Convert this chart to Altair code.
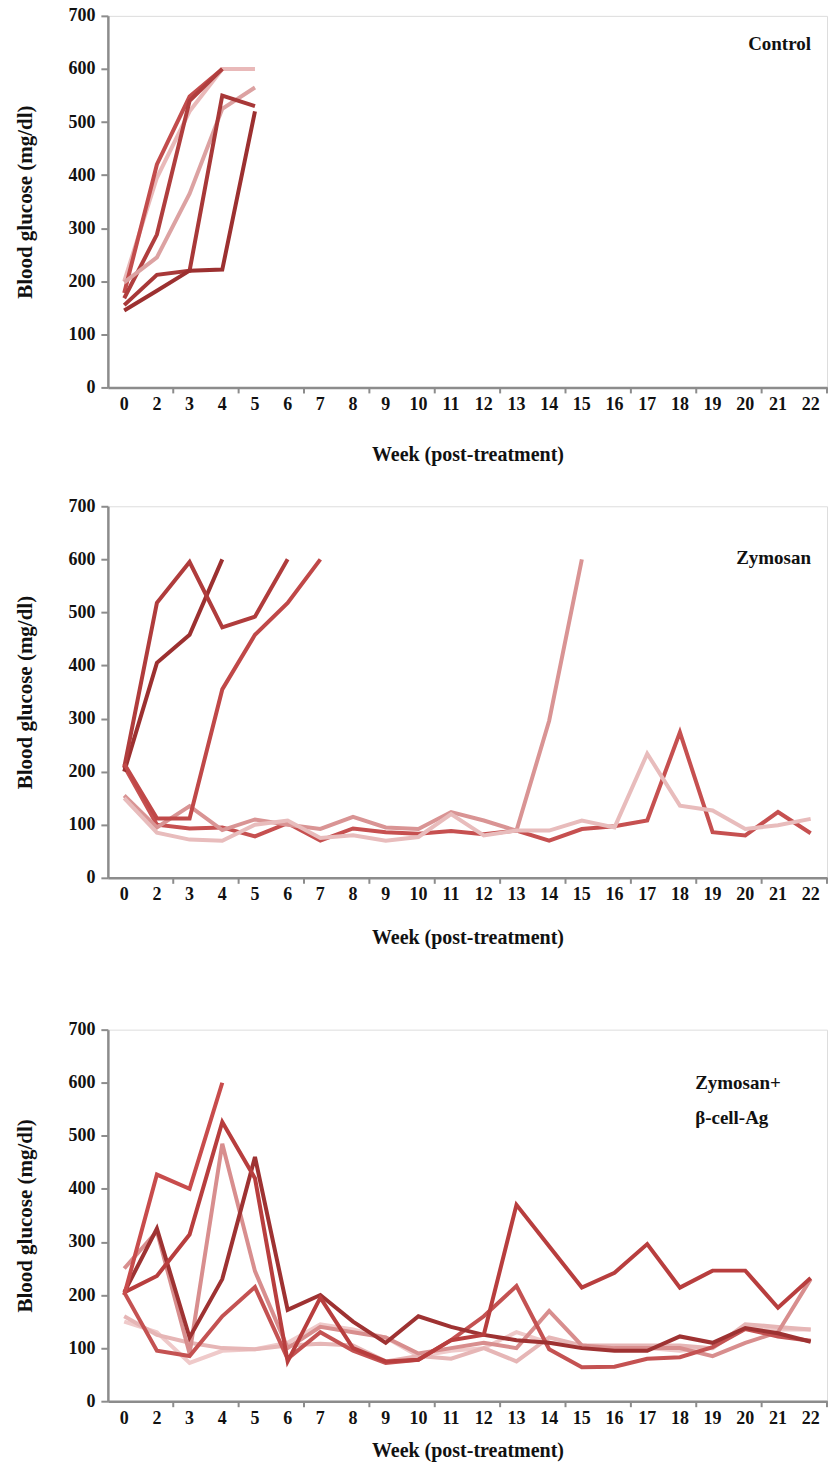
import altair as alt
import pandas as pd

# Week categories on the x axis (no week 1 was sampled)
weeks = ["0", "2", "3", "4", "5", "6", "7", "8", "9", "10", "11", "12",
         "13", "14", "15", "16", "17", "18", "19", "20", "21", "22"]

# ---- Control group: blood glucose per mouse (mg/dl) ----
control_c1 = [200, 395, 520, 600, 600]
control_c2 = [178, 420, 548, 600]
control_c3 = [168, 288, 540, 600]
control_c4 = [198, 245, 365, 525, 565]
control_c5 = [155, 212, 220, 550, 530]
control_c6 = [145, 182, 220, 222, 520]

# ---- Zymosan group ----
zym_z1 = [200, 405, 458, 600]
zym_z2 = [208, 518, 595, 472, 492, 600]
zym_z3 = [215, 112, 112, 355, 458, 518, 600]
zym_z4 = [210, 100, 93, 95, 78, 103, 70, 93, 86, 83, 88, 82, 89, 70, 92, 97,
          108, 274, 86, 80, 124, 84]
zym_z5 = [155, 95, 135, 90, 110, 100, 92, 115, 95, 92, 124, 108, 89, 296, 600]
zym_z6 = [150, 85, 72, 70, 100, 108, 75, 80, 70, 77, 120, 80, 89, 89, 108, 95,
          234, 136, 127, 92, 99, 111]

# ---- Zymosan + beta-cell antigen group ----
zb_b1 = [200, 427, 400, 600]
zb_b2 = [205, 236, 314, 526, 420, 75, 195, 100, 75, 78, 115, 125, 370, 292,
         214, 242, 296, 214, 246, 246, 176, 232]
zb_b3 = [205, 325, 120, 230, 460, 172, 200, 150, 110, 160, 140, 125, 115, 110,
         100, 95, 95, 122, 110, 138, 128, 112]
zb_b4 = [205, 95, 85, 160, 215, 80, 130, 95, 72, 78, 115, 160, 217, 98, 64,
         65, 80, 83, 102, 136, 122, 114]
zb_b5 = [250, 320, 90, 485, 245, 100, 140, 130, 120, 90, 100, 110, 100, 170,
         105, 100, 100, 100, 85, 110, 130, 230]
zb_b6 = [160, 125, 110, 100, 98, 105, 108, 105, 75, 85, 80, 100, 75, 120, 105,
         105, 105, 105, 100, 145, 140, 135]
zb_b7 = [150, 130, 72, 95, 98, 110, 145, 135, 120, 85, 95, 100, 130, 110, 105,
         100, 100, 95, 100, 140, 135, 135]

control_series = [("c1", control_c1, "#e9b9b9"), ("c2", control_c2, "#c24c4c"),
                  ("c3", control_c3, "#b03e3e"), ("c4", control_c4, "#dca2a2"),
                  ("c5", control_c5, "#a83838"), ("c6", control_c6, "#9c3030")]

zym_series = [("z4", zym_z4, "#c65050"), ("z5", zym_z5, "#d99494"),
              ("z6", zym_z6, "#e8bcbc"), ("z1", zym_z1, "#9c3030"),
              ("z2", zym_z2, "#b03c3c"), ("z3", zym_z3, "#c04848")]

zb_series = [("b7", zb_b7, "#efcaca"), ("b6", zb_b6, "#e6b6b6"),
             ("b5", zb_b5, "#d88e8e"), ("b4", zb_b4, "#c45252"),
             ("b3", zb_b3, "#9e3232"), ("b2", zb_b2, "#b83e3e"),
             ("b1", zb_b1, "#c84c4c")]

# tick marks sit on every second category boundary
tick_weeks = weeks[1::2]

FONT = "Liberation Serif"
PANEL_W = 720
PANEL_H = 372
AXIS_GREY = "#8c8c8c"


def frame(series):
    rows = []
    for order, (name, vals, col) in enumerate(series):
        for wk, v in zip(weeks, vals):
            rows.append({"week": wk, "glucose": v, "mouse": name,
                         "colour": col, "order": order})
    return pd.DataFrame(rows)


x_scale = alt.Scale(type="band", domain=weeks, paddingInner=0, paddingOuter=0)


def make_x_axis(title_pad):
    return alt.Axis(
        title="Week (post-treatment)",
        titleFont=FONT, titleFontSize=20, titleFontWeight="bold",
        titleColor="#111111", titlePadding=title_pad,
        labelFont=FONT, labelFontSize=18, labelFontWeight="bold",
        labelColor="#111111", labelAngle=0, labelPadding=8,
        domainColor=AXIS_GREY, domainWidth=2.5,
        ticks=False, grid=False,
    )


y_axis = alt.Axis(
    title="Blood glucose (mg/dl)",
    values=list(range(0, 701, 100)),
    titleFont=FONT, titleFontSize=21, titleFontWeight="bold",
    titleColor="#111111", titlePadding=32,
    labelFont=FONT, labelFontSize=18, labelFontWeight="bold",
    labelColor="#111111", labelPadding=6,
    domainColor=AXIS_GREY, domainWidth=2.5,
    tickColor=AXIS_GREY, tickWidth=2, tickSize=7,
    grid=False,
)


def panel(series, labels, title_pad):
    df = frame(series)
    x_axis = make_x_axis(title_pad)
    lines = alt.Chart(df).mark_line(strokeWidth=4, strokeJoin="miter").encode(
        x=alt.X("week:N", sort=weeks, scale=x_scale, axis=x_axis),
        y=alt.Y("glucose:Q", scale=alt.Scale(domain=[0, 700], nice=False),
                axis=y_axis),
        color=alt.Color("colour:N", scale=None, legend=None),
        detail="mouse:N",
        order="order:Q",
    )
    ticks = alt.Chart(pd.DataFrame({"week": tick_weeks})).mark_rule(
        color=AXIS_GREY, strokeWidth=2
    ).encode(
        x=alt.X("week:N", sort=weeks, scale=x_scale, bandPosition=1, axis=x_axis),
        y=alt.value(PANEL_H),
        y2=alt.value(PANEL_H + 6),
    )
    layers = [lines, ticks]
    for text, px, py, align in labels:
        layers.append(
            alt.Chart(pd.DataFrame({"t": [text]})).mark_text(
                font=FONT, fontSize=19, fontWeight="bold", color="#111111",
                align=align, baseline="middle",
            ).encode(text="t:N", x=alt.value(px), y=alt.value(py))
        )
    return alt.layer(*layers).properties(width=PANEL_W, height=PANEL_H)


p1 = panel(control_series, [("Control", 704, 28, "right")], 31)
p2 = panel(zym_series, [("Zymosan", 704, 52, "right")], 24)
p3 = panel(zb_series, [("Zymosan+", 588, 53, "left"),
                       ("β-cell-Ag", 588, 88, "left")], 13)

top = alt.vconcat(p1, p2, spacing=31)
chart = alt.vconcat(top, p3, spacing=71).properties(
    padding={"left": 14, "top": 5, "right": 5, "bottom": 5}
).configure_view(stroke=None).configure(background="white")

chart.save("out.html", embed_options={"renderer": "svg", "actions": False})
